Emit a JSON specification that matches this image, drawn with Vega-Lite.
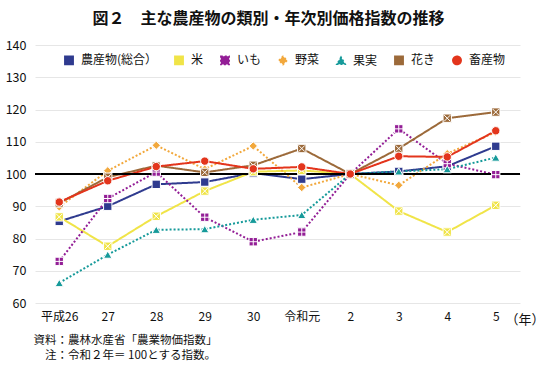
{
  "$schema": "https://vega.github.io/schema/vega-lite/v6.json",
  "width": 485,
  "height": 258,
  "autosize": {"type": "none"},
  "padding": {"left": 35, "top": 45, "right": 30, "bottom": 62},
  "background": "white",
  "config": {
    "font": "Noto Sans CJK JP",
    "view": {"stroke": null}
  },
  "title": {
    "text": "図２　主な農産物の類別・年次別価格指数の推移",
    "fontSize": 16,
    "fontWeight": "bold",
    "color": "#111111",
    "anchor": "middle",
    "dx": -9,
    "offset": 12
  },
  "data": {
    "values": [
      {"series": "農産物(総合）", "year": "平成26", "value": 85.3},
      {"series": "農産物(総合）", "year": "27", "value": 90},
      {"series": "農産物(総合）", "year": "28", "value": 96.8},
      {"series": "農産物(総合）", "year": "29", "value": 97.5},
      {"series": "農産物(総合）", "year": "30", "value": 100.3},
      {"series": "農産物(総合）", "year": "令和元", "value": 98.4},
      {"series": "農産物(総合）", "year": "2", "value": 100},
      {"series": "農産物(総合）", "year": "3", "value": 100.8},
      {"series": "農産物(総合）", "year": "4", "value": 102.4},
      {"series": "農産物(総合）", "year": "5", "value": 108.6},
      {"series": "米", "year": "平成26", "value": 86.7},
      {"series": "米", "year": "27", "value": 77.6},
      {"series": "米", "year": "28", "value": 86.9},
      {"series": "米", "year": "29", "value": 94.7},
      {"series": "米", "year": "30", "value": 100.7},
      {"series": "米", "year": "令和元", "value": 101.1},
      {"series": "米", "year": "2", "value": 100},
      {"series": "米", "year": "3", "value": 88.5},
      {"series": "米", "year": "4", "value": 82},
      {"series": "米", "year": "5", "value": 90.3},
      {"series": "いも", "year": "平成26", "value": 72.9},
      {"series": "いも", "year": "27", "value": 92.4},
      {"series": "いも", "year": "28", "value": 100.6},
      {"series": "いも", "year": "29", "value": 86.6},
      {"series": "いも", "year": "30", "value": 79},
      {"series": "いも", "year": "令和元", "value": 82},
      {"series": "いも", "year": "2", "value": 100},
      {"series": "いも", "year": "3", "value": 114},
      {"series": "いも", "year": "4", "value": 103.2},
      {"series": "いも", "year": "5", "value": 99.8},
      {"series": "野菜", "year": "平成26", "value": 89.8},
      {"series": "野菜", "year": "27", "value": 101},
      {"series": "野菜", "year": "28", "value": 108.9},
      {"series": "野菜", "year": "29", "value": 101.5},
      {"series": "野菜", "year": "30", "value": 108.7},
      {"series": "野菜", "year": "令和元", "value": 95.8},
      {"series": "野菜", "year": "2", "value": 100},
      {"series": "野菜", "year": "3", "value": 96.5},
      {"series": "野菜", "year": "4", "value": 106.3},
      {"series": "野菜", "year": "5", "value": 113},
      {"series": "果実", "year": "平成26", "value": 66.2},
      {"series": "果実", "year": "27", "value": 75},
      {"series": "果実", "year": "28", "value": 82.7},
      {"series": "果実", "year": "29", "value": 82.9},
      {"series": "果実", "year": "30", "value": 85.8},
      {"series": "果実", "year": "令和元", "value": 87.3},
      {"series": "果実", "year": "2", "value": 100},
      {"series": "果実", "year": "3", "value": 100.8},
      {"series": "果実", "year": "4", "value": 101.5},
      {"series": "果実", "year": "5", "value": 105.1},
      {"series": "花き", "year": "平成26", "value": 91},
      {"series": "花き", "year": "27", "value": 99},
      {"series": "花き", "year": "28", "value": 102.6},
      {"series": "花き", "year": "29", "value": 100.5},
      {"series": "花き", "year": "30", "value": 102.7},
      {"series": "花き", "year": "令和元", "value": 107.9},
      {"series": "花き", "year": "2", "value": 100},
      {"series": "花き", "year": "3", "value": 107.9},
      {"series": "花き", "year": "4", "value": 117.3},
      {"series": "花き", "year": "5", "value": 119.2},
      {"series": "畜産物", "year": "平成26", "value": 91.3},
      {"series": "畜産物", "year": "27", "value": 97.9},
      {"series": "畜産物", "year": "28", "value": 102.3},
      {"series": "畜産物", "year": "29", "value": 104},
      {"series": "畜産物", "year": "30", "value": 101.6},
      {"series": "畜産物", "year": "令和元", "value": 102.2},
      {"series": "畜産物", "year": "2", "value": 100},
      {"series": "畜産物", "year": "3", "value": 105.5},
      {"series": "畜産物", "year": "4", "value": 105.3},
      {"series": "畜産物", "year": "5", "value": 113.4}
    ]
  },
  "encoding": {
    "x": {
      "field": "year",
      "type": "nominal",
      "sort": ["平成26", "27", "28", "29", "30", "令和元", "2", "3", "4", "5"],
      "scale": {"type": "point", "padding": 0.5},
      "axis": {
        "title": "（年）",
        "titleFontSize": 13,
        "titleFontWeight": "normal",
        "titleColor": "#111111",
        "titleAlign": "left",
        "titleBaseline": "middle",
        "titleAngle": 0,
        "titleX": 470,
        "titleY": 16,
        "labelAngle": 0,
        "labelFontSize": 12,
        "labelColor": "#111111",
        "labelPadding": 8,
        "domain": false,
        "ticks": false,
        "grid": false
      }
    },
    "y": {
      "field": "value",
      "type": "quantitative",
      "scale": {"domain": [60, 140], "nice": false, "zero": false},
      "axis": {
        "values": [60, 70, 80, 90, 100, 110, 120, 130, 140],
        "title": ["資料：農林水産省「農業物価指数」", "\u200b\u3000注：令和２年＝ 100とする指数。"],
        "titleFontSize": 11.5,
        "titleFontWeight": "normal",
        "titleColor": "#111111",
        "titleAngle": 0,
        "titleAlign": "left",
        "titleBaseline": "top",
        "titleLineHeight": 15,
        "titleX": -2,
        "titleY": 289,
        "labelFontSize": 12.5,
        "labelColor": "#111111",
        "labelPadding": 9,
        "domain": false,
        "ticks": false,
        "grid": true,
        "gridColor": "#e6e6e6",
        "gridWidth": 1
      }
    }
  },
  "layer": [
    {
      "mark": {"type": "line", "strokeWidth": 2},
      "encoding": {
        "color": {
          "field": "series",
          "type": "nominal",
          "scale": {
            "domain": ["農産物(総合）", "米", "いも", "野菜", "果実", "花き", "畜産物"],
            "range": ["#2f3b8f", "#f0e448", "#931e96", "#f2a83c", "#169a9a", "#9c6a3a", "#e3351c"]
          }
        },
        "strokeDash": {
          "field": "series",
          "type": "nominal",
          "scale": {
            "domain": ["農産物(総合）", "米", "いも", "野菜", "果実", "花き", "畜産物"],
            "range": [[1, 0], [1, 0], [2, 2], [2, 2], [2, 2], [1, 0], [1, 0]]
          },
          "legend": null
        }
      }
    },
    {
      "mark": {"type": "rule", "color": "#000000", "strokeWidth": 2},
      "encoding": {
        "y": {"datum": 100},
        "x": null
      }
    },
    {
      "mark": {"type": "point", "filled": true, "opacity": 1, "size": 70, "stroke": "white", "strokeWidth": 1},
      "encoding": {
        "color": {
          "field": "series",
          "type": "nominal",
          "legend": {
            "title": null,
            "orient": "none",
            "direction": "horizontal",
            "columns": 7,
            "legendX": 28,
            "legendY": 9,
            "padding": 0,
            "labelFontSize": 12,
            "labelColor": "#111111",
            "labelOffset": 6,
            "columnPadding": 13,
            "symbolSize": 70,
            "symbolOpacity": 1
          }
        },
        "shape": {
          "field": "series",
          "type": "nominal",
          "scale": {
            "domain": ["農産物(総合）", "米", "いも", "野菜", "果実", "花き", "畜産物"],
            "range": [
              "square",
              "M-1,-1H1V1H-1Z M-0.75,-0.75L0.75,0.75 M0.75,-0.75L-0.75,0.75",
              "M-1,-1H1V1H-1Z M0,-1V1 M-1,0H1",
              "diamond",
              "triangle-up",
              "M-1,-1H1V1H-1Z M-0.75,-0.75L0.75,0.75 M0.75,-0.75L-0.75,0.75",
              "circle"
            ]
          },
          "legend": null
        }
      }
    }
  ]
}
